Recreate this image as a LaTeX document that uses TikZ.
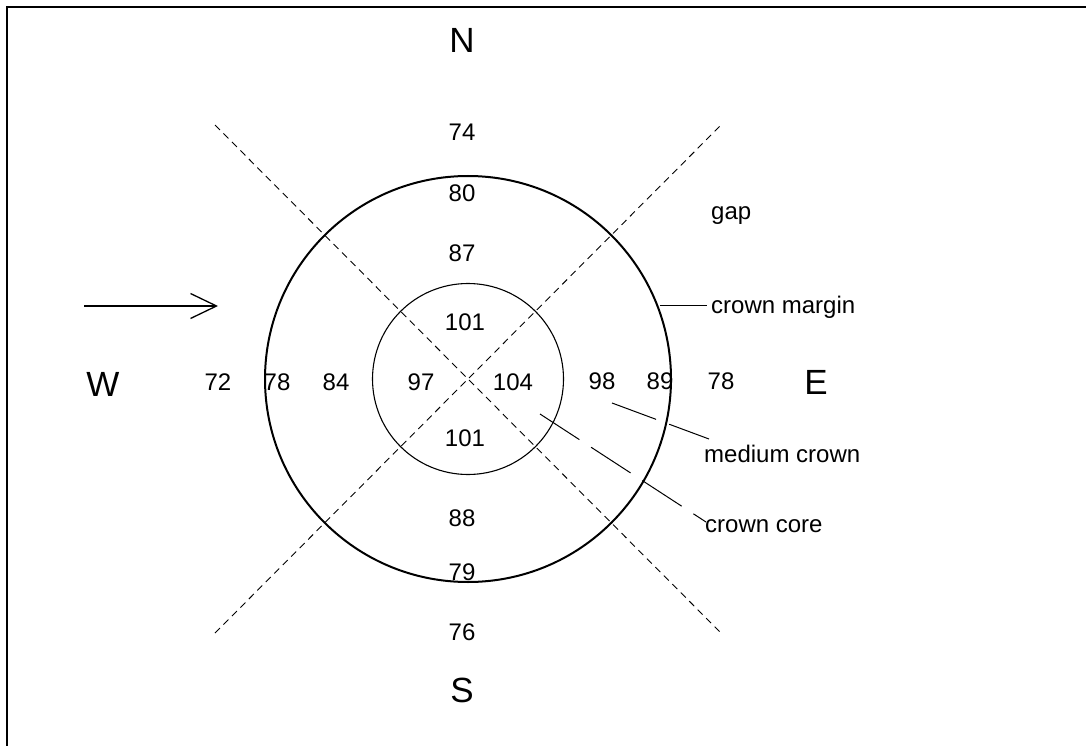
\documentclass[tikz,border=0pt]{standalone}
\usepackage{fontspec}
\setmainfont{Liberation Sans}
\usetikzlibrary{arrows.meta}
\begin{document}
\begin{tikzpicture}[x=1pt,y=-1pt,
  val/.style={font=\fontsize{24}{28}\selectfont, inner sep=0pt, anchor=center},
  dir/.style={font=\fontsize{35}{40}\selectfont, inner sep=0pt, anchor=center},
  lbl/.style={font=\fontsize{24}{28}\selectfont, inner sep=0pt, anchor=base west},
  sector/.style={line width=0.9pt, dash pattern=on 7pt off 5pt},
  leader/.style={line width=1pt},
  dleader/.style={line width=1pt, dash pattern=on 47pt off 14pt},
  ring/.style={circle, draw, inner sep=0pt}
]
\useasboundingbox (0,0) rectangle (1086,746);
% frame
\draw[line width=2pt] (6.7,746) -- (6.7,7.5) -- (1086,7.5);

% circles
\node[ring, line width=2pt, minimum size=406pt] (outer) at (468,379) {};
\node[ring, line width=1.1pt, minimum size=191pt] (inner) at (468,379) {};

% sector lines
\coordinate (tl) at (215,125);
\coordinate (br) at (721,633);
\coordinate (tr) at (721,125);
\coordinate (bl) at (215,633);
\draw[sector] (tl) -- (br);
\draw[sector] (bl) -- (tr);

% direction letters
\node[dir] (N) at (462,40) {N};
\node[dir] (S) at (462,690) {S};
\node[dir] (W) at (103,384) {W};
\node[dir] (E) at (816,382) {E};

% wind arrow
\coordinate (a1) at (84,306);
\coordinate (a2) at (218,306);
\draw[line width=1.3pt, -{Straight Barb[length=26pt,width=25pt,line width=1.3pt]}] (a1) -- (a2);

% values north-south
\node[val] (n74) at (462,132) {74};
\node[val] (n80) at (462,193) {80};
\node[val] (n87) at (462,253) {87};
\node[val] (n101a) at (465,322) {101};
\node[val] (n101b) at (465,438) {101};
\node[val] (n88) at (462,518) {88};
\node[val] (n79) at (462,572) {79};
\node[val] (n76) at (462,632) {76};

% values west-east
\node[val] (w72) at (218,382) {72};
\node[val] (w78) at (277,382) {78};
\node[val] (w84) at (336,382) {84};
\node[val] (w97) at (421,382) {97};
\node[val] (e104) at (513,382) {104};
\node[val] (e98) at (602,381) {98};
\node[val] (e89) at (660,381) {89};
\node[val] (e78) at (721,381) {78};

% labels
\node[lbl] (gap) at (711,219) {gap};
\node[lbl] (cmargin) at (711,313) {crown margin};
\node[lbl] (mcrown) at (704,462) {medium crown};
\node[lbl] (ccore) at (705,532) {crown core};

% leaders
\coordinate (cmA) at (660,305);
\coordinate (cmB) at (707,305);
\draw[leader] (cmA) -- (cmB);
\coordinate (mcA) at (612,403);
\coordinate (mcB) at (709,439);
\draw[dleader] (mcA) -- (mcB);
\coordinate (ccA) at (540,414);
\coordinate (ccB) at (706,522);
\draw[dleader] (ccA) -- (ccB);
\end{tikzpicture}
\end{document}
